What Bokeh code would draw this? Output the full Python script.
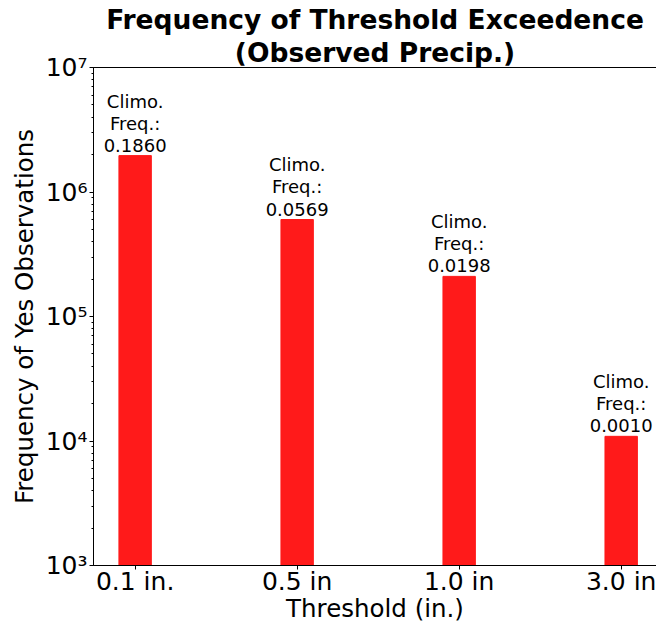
from bokeh.plotting import figure
from bokeh.models import (Range1d, FixedTicker, LinearAxis, Title,
                          CustomJSTickFormatter, ColumnDataSource)
from bokeh.core.properties import value
from bokeh.embed import file_html
from bokeh.resources import INLINE

# Threshold categories, counts of "yes" observations and climatological frequency
thresholds = ["0.1 in.", "0.5 in", "1.0 in", "3.0 in"]
yes_counts = [1960000, 601000, 210000, 10900]
climo_freq = [0.1860, 0.0569, 0.0198, 0.0010]

FONT = "DejaVu Sans"
positions = list(range(len(thresholds)))
labels = [f"Climo.\nFreq.:\n{f:.4f}" for f in climo_freq]
src = ColumnDataSource(dict(x=positions, top=yes_counts, label=labels))

p = figure(width=656, height=626, y_axis_type="log",
           x_range=Range1d(-0.257, 3.218), y_range=Range1d(1e3, 1e7),
           output_backend="svg", toolbar_location=None, title=None,
           min_border_left=93, min_border_right=0,
           min_border_top=67, min_border_bottom=61)
p.outline_line_color = None
p.grid.visible = False
p.background_fill_color = "white"
p.border_fill_color = "white"

p.vbar(x="x", top="top", bottom=1e3, width=0.2, color="#ff1a1a", source=src)
p.text(x="x", y="top", text="label", text_align="center", text_baseline="bottom",
       text_font=value(FONT), text_font_size="18px", text_line_height=1.05,
       text_color="black", source=src)

# x axis: category names at bar positions
xa = p.xaxis[0]
xa.ticker = FixedTicker(ticks=positions)
xa.major_label_overrides = {i: t for i, t in enumerate(thresholds)}
xa.axis_label = "Threshold (in.)"

# y axis: decades written as powers of ten
ya = p.yaxis[0]
ya.formatter = CustomJSTickFormatter(code="""
    const sup = {"0":"\u2070","1":"\u00b9","2":"\u00b2","3":"\u00b3","4":"\u2074",
                 "5":"\u2075","6":"\u2076","7":"\u2077","8":"\u2078","9":"\u2079","-":"\u207b"};
    const e = Math.round(Math.log10(tick));
    return "10" + String(e).split("").map(c => sup[c]).join("");
""")
ya.axis_label = "Frequency of Yes Observations"

for ax in (xa, ya):
    ax.axis_line_color = "black"
    ax.major_tick_line_color = "black"
    ax.minor_tick_line_color = "black"
    ax.major_tick_in = 0
    ax.major_tick_out = 4
    ax.minor_tick_in = 0
    ax.minor_tick_out = 2
    ax.major_label_text_font = FONT
    ax.major_label_text_font_size = "25px"
    ax.major_label_text_color = "black"
    ax.axis_label_text_font = FONT
    ax.axis_label_text_font_size = "24.5px"
    ax.axis_label_text_font_style = "normal"
    ax.axis_label_text_color = "black"

ya.major_label_standoff = 2
ya.axis_label_standoff = 4
xa.major_label_standoff = -3
xa.axis_label_standoff = -5

# top spine
top = LinearAxis(ticker=FixedTicker(ticks=[]), axis_line_color="black",
                 major_tick_in=0, major_tick_out=0, minor_tick_in=0, minor_tick_out=0,
                 major_label_text_font_size="0px")
p.add_layout(top, "above")

p.add_layout(Title(text="(Observed Precip.)", align="center", offset=8,
                   text_font=FONT, text_font_size="26.5px", text_font_style="bold",
                   text_color="black", standoff=0), "above")
p.add_layout(Title(text="Frequency of Threshold Exceedence", align="center", offset=8,
                   text_font=FONT, text_font_size="26.5px", text_font_style="bold",
                   text_color="black", standoff=0), "above")

open("out.html", "w").write(file_html(p, INLINE))
